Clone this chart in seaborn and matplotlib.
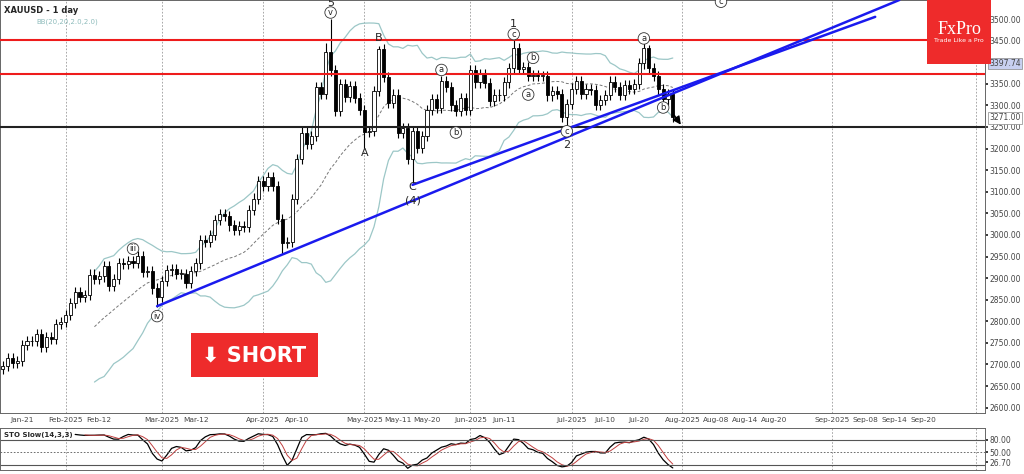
import pandas as pd
import numpy as np
import matplotlib.pyplot as plt
import seaborn as sns
from matplotlib.patches import Rectangle

# daily closes, Jan 15 - Jul 30 2025
closes = [2697, 2714, 2703, 2708, 2745, 2755, 2754, 2770, 2740, 2763, 2760, 2794, 2798,
          2815, 2842, 2867, 2856, 2861, 2908, 2898, 2904, 2928, 2882, 2898, 2935, 2933, 2939, 2936, 2951, 2915, 2916, 2876, 2857,
          2893, 2918, 2920, 2910, 2910, 2888, 2916, 2934, 2988, 2984, 3000, 3034, 3048, 3044, 3022, 3011, 3020, 3019, 3057, 3084, 3124,
          3113, 3134, 3114, 3037, 2982, 2983, 3083, 3176, 3237, 3210, 3229, 3342, 3327, 3424, 3381, 3288, 3349, 3319, 3344, 3317, 3289,
          3239, 3240, 3334, 3431, 3365, 3305, 3325, 3236, 3248, 3176, 3240, 3201, 3229, 3289, 3314, 3295, 3357, 3342, 3300, 3288, 3317, 3289,
          3381, 3353, 3372, 3352, 3310, 3325, 3323, 3353, 3386, 3433, 3385, 3388, 3369, 3370, 3368, 3368, 3323, 3333, 3327, 3273, 3303,
          3339, 3357, 3326, 3337, 3336, 3301, 3313, 3324, 3355, 3343, 3324, 3347, 3338, 3350, 3397, 3432, 3387, 3368, 3337, 3314, 3326, 3274]
first_open = 2690
spike_highs = {"2025-04-22": 3500, "2025-05-06": 3438, "2025-06-13": 3452, "2025-07-23": 3439, "2025-04-21": 3445}
spike_lows = {"2025-05-15": 3120, "2025-06-30": 3247, "2025-04-07": 2956, "2025-02-28": 2832, "2025-05-01": 3202}

dates = [d for d in pd.bdate_range("2025-01-15", "2025-07-30") if d != pd.Timestamp("2025-04-18")]
last = dates[-1]

def pos(d):
    d = pd.Timestamp(d)
    if d <= last:
        return int(np.searchsorted(dates, d))
    return len(dates) - 1 + (d - last).days

tick_labels = ["Jan-21", "Feb-2025", "Feb-12", "Mar-2025", "Mar-12", "Apr-2025", "Apr-10", "May-2025", "May-11", "May-20",
               "Jun-2025", "Jun-11", "Jul-2025", "Jul-10", "Jul-20", "Aug-2025", "Aug-08", "Aug-14", "Aug-20",
               "Sep-2025", "Sep-08", "Sep-14", "Sep-20"]
tick_dates = ["2025-01-21", "2025-02-03", "2025-02-12", "2025-03-03", "2025-03-12", "2025-04-01", "2025-04-10", "2025-05-01",
              "2025-05-12", "2025-05-20", "2025-06-02", "2025-06-11", "2025-07-01", "2025-07-10", "2025-07-21", "2025-08-01",
              "2025-08-08", "2025-08-14", "2025-08-20", "2025-09-01", "2025-09-08", "2025-09-14", "2025-09-20"]
grid_dates = ["2025-02-03", "2025-03-03", "2025-04-01", "2025-05-01", "2025-06-02", "2025-07-01", "2025-08-01", "2025-09-01", "2025-10-01"]

trend_lines = [(("2025-02-28", 2835), ("2025-09-15", 3544)), (("2025-05-15", 3116), ("2025-09-10", 3505))]
red_levels = [3452, 3372]
black_level = 3250

df = pd.DataFrame({"date": dates, "close": closes})
df["open"] = [first_open] + closes[:-1]
df["high"] = df[["open", "close"]].max(axis=1) + 12
df["low"] = df[["open", "close"]].min(axis=1) - 12
for d, v in spike_highs.items():
    df.loc[df["date"] == pd.Timestamp(d), "high"] = v
for d, v in spike_lows.items():
    df.loc[df["date"] == pd.Timestamp(d), "low"] = v
df["x"] = range(len(df))
mid = df["close"].rolling(20).mean()
sd = df["close"].rolling(20).std(ddof=0)
lo14 = df["low"].rolling(14).min()
hi14 = df["high"].rolling(14).max()
k = (100 * (df["close"] - lo14) / (hi14 - lo14)).rolling(3).mean()
sig = k.rolling(3).mean()

sns.set_theme(style="white")
plt.rcParams["font.family"] = ["DejaVu Sans"]
fig = plt.figure(figsize=(10.24, 4.74), dpi=100)
ax = fig.add_axes([0.0, 0.129, 0.962, 0.871])
ax2 = fig.add_axes([0.0, 0.008, 0.962, 0.089])
xl = (-0.6, 203.8)

for a in (ax, ax2):
    for g in grid_dates:
        a.axvline(pos(g), color="#999999", lw=0.6, ls=(0, (2, 2)), zorder=0)

for r in df.itertuples():
    up = r.close >= r.open
    ax.vlines(r.x, r.low, r.high, color="black", lw=0.8, zorder=3)
    ax.add_patch(Rectangle((r.x - 0.32, min(r.open, r.close)), 0.64, max(abs(r.close - r.open), 1.5),
                           facecolor="white" if up else "black", edgecolor="black", lw=0.6, zorder=4))

ax.plot(df["x"], mid + 2 * sd, color="#9cc7c7", lw=0.9, zorder=2)
ax.plot(df["x"], mid - 2 * sd, color="#9cc7c7", lw=0.9, zorder=2)
ax.plot(df["x"], mid, color="#777777", lw=0.7, ls=(0, (3, 2)), zorder=2)

for lv in red_levels:
    ax.axhline(lv, color="#ee1c1c", lw=1.5, zorder=5)
ax.axhline(black_level, color="#222222", lw=1.5, zorder=5)
for (d1, p1), (d2, p2) in trend_lines:
    ax.plot([pos(d1), pos(d2)], [p1, p2], color="#1a1aee", lw=1.8, zorder=6)
ax.annotate("", xy=(pos("2025-07-30") + 2, 3250), xytext=(pos("2025-07-30"), 3282),
            arrowprops=dict(arrowstyle="-|>", color="black", lw=1), zorder=7)

labels = [("5", "2025-04-22", 3538, False), ("v", "2025-04-22", 3515, True), ("B", "2025-05-06", 3455, False),
          ("A", "2025-05-01", 3190, False), ("C", "2025-05-15", 3110, False), ("(4)", "2025-05-15", 3080, False),
          ("1", "2025-06-13", 3488, False), ("c", "2025-06-13", 3465, True), ("2", "2025-06-30", 3208, False),
          ("iii", "2025-02-21", 2968, True), ("iv", "2025-02-28", 2812, True), ("a", "2025-05-23", 3382, True),
          ("b", "2025-05-28", 3237, True), ("b", "2025-06-19", 3410, True), ("a", "2025-06-18", 3325, True),
          ("c", "2025-06-30", 3240, True), ("a", "2025-07-22", 3455, True), ("b", "2025-07-28", 3295, True),
          ("c", "2025-08-09", 3540, True)]
for t, d, p, circ in labels:
    ax.text(pos(d), p, t, ha="center", va="center", fontsize=6 if circ else 8, zorder=8,
            bbox=dict(boxstyle="circle,pad=0.15", fc="white", ec="#333333", lw=0.6) if circ else None)

ax.set_xlim(*xl)
ax.set_ylim(2588, 3544)
ax.yaxis.tick_right()
ax.set_yticks(range(2600, 3501, 50))
ax.set_yticklabels([f"{v}.00" for v in range(2600, 3501, 50)], fontsize=5.5, color="#444444")
ax.set_xticks([pos(d) for d in tick_dates])
ax.set_xticklabels(tick_labels, fontsize=5.3, color="#444444")
ax.tick_params(length=2, pad=1)
for s in ax.spines.values():
    s.set_color("#666666")
    s.set_linewidth(0.7)
for p, txt, fc in [(3397.74, "3397.74", "#c8d0f0"), (3271, "3271.00", "white")]:
    ax.text(1.004, p, txt, transform=ax.get_yaxis_transform(), fontsize=5.5, va="center", color="#444444",
            bbox=dict(boxstyle="square,pad=0.15", fc=fc, ec="#888888", lw=0.5), clip_on=False)

ax.text(0.004, 0.985, "XAUUSD - 1 day", transform=ax.transAxes, fontsize=6, weight="bold", va="top")
ax.text(0.037, 0.955, "BB(20,20,2.0,2.0)", transform=ax.transAxes, fontsize=5, color="#8fbcbc", va="top")

fig.patches.append(Rectangle((191 / 1024, 1 - 377 / 474), 127 / 1024, 44 / 474, transform=fig.transFigure,
                             facecolor="#ee2b2b", edgecolor="none", zorder=10))
fig.text(254 / 1024, 1 - 355 / 474, "⬇ SHORT", ha="center", va="center", fontsize=15, weight="bold", color="white", zorder=11)
fig.patches.append(Rectangle((927 / 1024, 1 - 64 / 474), 64 / 1024, 64 / 474, transform=fig.transFigure,
                             facecolor="#ee2b2b", edgecolor="none", zorder=10))
fig.text(959 / 1024, 1 - 29 / 474, "FxPro", ha="center", va="center", fontsize=13, family="Liberation Serif", color="white", zorder=11)
fig.text(959 / 1024, 1 - 41 / 474, "Trade Like a Pro", ha="center", va="center", fontsize=4.5, color="white", zorder=11)

ax2.plot(df["x"], k, color="black", lw=0.9)
ax2.plot(df["x"], sig, color="#c04040", lw=0.7)
ax2.axhline(80, color="#555555", lw=0.8)
ax2.axhline(20, color="#555555", lw=0.8)
ax2.axhline(50, color="#555555", lw=0.6, ls=(0, (2, 2)))
ax2.set_xlim(*xl)
ax2.set_ylim(8, 108)
ax2.set_xticks([])
ax2.yaxis.tick_right()
ax2.set_yticks([80, 50, 26.7])
ax2.set_yticklabels(["80.00", "50.00", "26.70"], fontsize=5.5, color="#444444")
ax2.tick_params(length=2, pad=1)
for s in ax2.spines.values():
    s.set_color("#666666")
    s.set_linewidth(0.7)
ax2.text(0.004, 0.9, "STO Slow(14,3,3)", transform=ax2.transAxes, fontsize=5, weight="bold", va="top")

fig.savefig("out.png", dpi=100)
